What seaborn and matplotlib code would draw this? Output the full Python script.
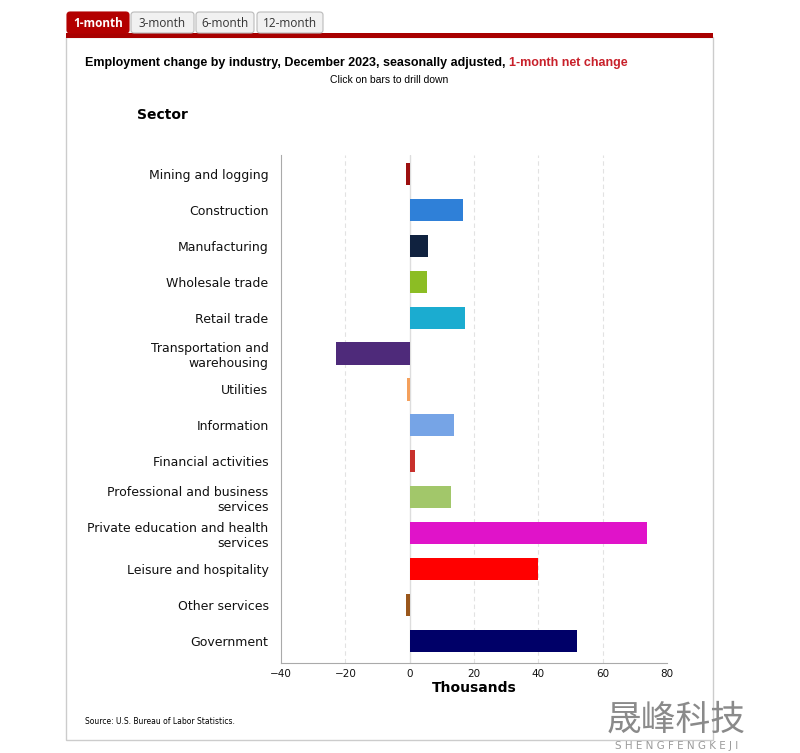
import matplotlib
matplotlib.use("Agg")
import matplotlib.pyplot as plt
import seaborn as sns
import pandas as pd
from matplotlib.patches import Rectangle, FancyBboxPatch

sectors = ["Mining and logging", "Construction", "Manufacturing", "Wholesale trade",
           "Retail trade", "Transportation and\nwarehousing", "Utilities", "Information",
           "Financial activities", "Professional and business\nservices",
           "Private education and health\nservices", "Leisure and hospitality",
           "Other services", "Government"]
values = [-1.1, 16.7, 5.8, 5.3, 17.2, -23.0, -0.7, 13.7, 1.7, 12.9, 73.8, 39.9, -1.1, 52.0]
colors = ["#9c0f0f", "#2f80d8", "#10223f", "#8cbd24", "#1bacd0", "#4e2a7a", "#f4a05c",
          "#76a4e6", "#c8302c", "#a2c76a", "#e013c9", "#ff0000", "#9a571c", "#000068"]
x_ticks = [-40, -20, 0, 20, 40, 60, 80]
tabs = ["1-month", "3-month", "6-month", "12-month"]

df = pd.DataFrame({"Sector": sectors, "Change": values})
W, H = 800, 753
def fx(p): return p / W
def fy(p): return 1 - p / H

sns.set_theme(style="white")
plt.rcParams["font.family"] = ["DejaVu Sans", "Noto Sans CJK SC"]
plt.rcParams.update({"text.color": "#111111", "axes.labelcolor": "#111111",
                     "xtick.color": "#111111", "ytick.color": "#111111"})
fig = plt.figure(figsize=(8, 7.53), dpi=100)

# outer frame
fig.patches.append(Rectangle((fx(66), fy(740)), fx(713) - fx(66), fy(37) - fy(740),
                             transform=fig.transFigure, fill=False, edgecolor="#cccccc", lw=1))
# red bar under tabs
fig.patches.append(Rectangle((fx(66), fy(38)), fx(713) - fx(66), fy(33) - fy(38),
                             transform=fig.transFigure, color="#a80000", lw=0))
tab_x = [(67, 129), (131, 194), (196, 254), (257, 323)]
for i, (t, (a, b)) in enumerate(zip(tabs, tab_x)):
    active = i == 0
    fig.patches.append(FancyBboxPatch((fx(a), fy(33)), fx(b) - fx(a), fy(12) - fy(33),
                                      boxstyle="round,pad=0,rounding_size=0.004",
                                      transform=fig.transFigure,
                                      facecolor="#b30000" if active else "#f1f1f1",
                                      edgecolor="#b30000" if active else "#bbbbbb", lw=0.8))
    fig.text(fx((a + b) / 2), fy(23.5), t, ha="center", va="center", fontsize=8.5,
             fontweight="bold" if active else "normal",
             color="white" if active else "#333333", family="Open Sans")

# title in two colours
t1 = fig.text(fx(85), fy(63), "Employment change by industry, December 2023, seasonally adjusted, ",
              fontsize=9, fontweight="bold", family="Liberation Sans", va="center", ha="left",
              color="black")
fig.canvas.draw()
bb = t1.get_window_extent(renderer=fig.canvas.get_renderer())
fig.text(bb.x1 / fig.bbox.width, fy(63), "1-month net change", fontsize=9, fontweight="bold",
         family="Liberation Sans", va="center", ha="left", color="#c8202a")
fig.text(fx(389), fy(80), "Click on bars to drill down", fontsize=7.5,
         family="Liberation Sans", ha="center", va="center", color="black")
fig.text(fx(137), fy(115), "Sector", fontsize=10, fontweight="bold", ha="left", va="center",
         color="black")

ax = fig.add_axes([fx(281), fy(663), fx(667) - fx(281), fy(155) - fy(663)])
sns.barplot(data=df, y="Sector", x="Change", hue="Sector", palette=dict(zip(sectors, colors)),
            orient="h", width=0.62, legend=False, ax=ax, saturation=1, linewidth=0)
ax.set_xlim(-40, 80)
ax.set_ylim(13.62, -0.53)
ax.set_xticks(x_ticks)
ax.set_xticklabels([str(v).replace("-", "\u2212") for v in x_ticks], fontsize=7.5)
ax.tick_params(axis="y", labelsize=9, length=0, pad=9)
ax.tick_params(axis="x", length=0, pad=4)
for lab in ax.get_yticklabels():
    lab.set_horizontalalignment("right")
    lab.set_multialignment("right")
for v in x_ticks:
    if v in (-40, 80):
        continue
    if v == 0:
        ax.axvline(0, color="#dddddd", lw=1, zorder=0)
    else:
        ax.axvline(v, color="#e2e2e2", lw=0.8, ls=(0, (4, 3)), zorder=0)
ax.set_ylabel("")
ax.set_xlabel("Thousands", fontsize=10, fontweight="bold", labelpad=2, color="black")
for s in ["top", "right"]:
    ax.spines[s].set_visible(False)
for s in ["left", "bottom"]:
    ax.spines[s].set_color("#aaaaaa")
    ax.spines[s].set_linewidth(0.8)

fig.text(fx(85), fy(721), "Source: U.S. Bureau of Labor Statistics.", fontsize=5.5,
         ha="left", va="center", color="black")
# watermark
fig.text(fx(676), fy(720), "晟峰科技", fontsize=25, color="#8a8a8a",
         family=["Noto Sans CJK SC"], ha="center", va="center")
fig.text(fx(677), fy(746), "S H E N G F E N G K E J I", fontsize=7.5, color="#9a9a9a",
         ha="center", va="center")

fig.savefig("out.png", dpi=100)
